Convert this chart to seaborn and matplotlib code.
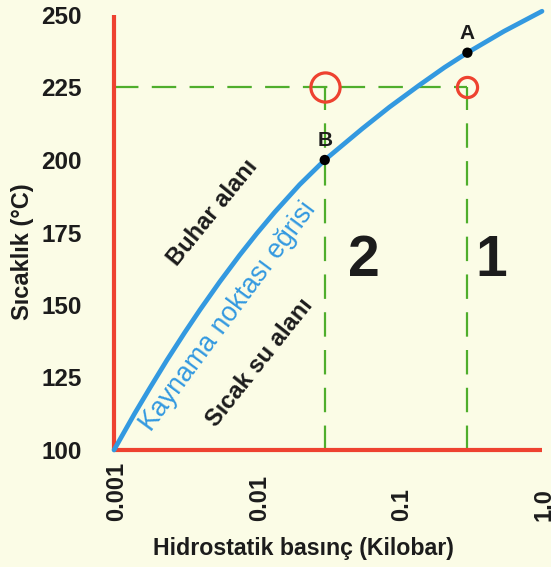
import matplotlib
matplotlib.use("Agg")
import matplotlib.pyplot as plt
import matplotlib.transforms as mtransforms
import seaborn as sns
import pandas as pd

# boiling point curve
pressure = [0.001, 0.0014, 0.00179, 0.00235, 0.00314, 0.0040, 0.00551, 0.0076,
            0.01, 0.01337, 0.02, 0.03, 0.055, 0.085, 0.138, 0.207, 0.3, 0.542, 1.0]
temperature = [100, 112.7, 121.5, 131, 140.6, 148.3, 158, 167.2,
               174.6, 182, 191.5, 200, 210.8, 218.2, 225.8, 231.9, 237, 244.4, 251.3]

point_names = ["A", "B"]
point_p = [0.3, 0.03]
point_t = [237, 200]

guide_t = 225
guide_p = [0.03, 0.3]

yticks = [100, 125, 150, 175, 200, 225, 250]
xtick_marks = [0.003, 0.01, 0.03, 0.1, 0.3, 1.0]
xtick_labels = ["0.001", "0.01", "0.1", "1.0"]
xtick_pos = [0.001, 0.01, 0.1, 1.0]

bg = "#fbfce6"
red = "#ee4230"
blue = "#3399e0"
green = "#4fae2c"
dark = "#1c1c1c"

sns.set_style("white")
plt.rcParams["font.family"] = ["Liberation Sans", "DejaVu Sans"]

fig = plt.figure(figsize=(5.51, 5.67), dpi=100)
fig.patch.set_facecolor(bg)
ax = fig.add_axes([114 / 551, 1 - 450 / 567, (542 - 114) / 551, (450 - 15) / 567])
ax.set_facecolor(bg)
ax.set_xscale("log")
ax.set_xlim(0.001, 1.0)
ax.set_ylim(100, 250)

# green dashed guides
dash = (0, (11, 6))
ax.plot([0.001, guide_p[1]], [guide_t, guide_t], color=green, lw=1.6, ls=dash, zorder=2)
for p in guide_p:
    ax.plot([p, p], [100, guide_t], color=green, lw=1.6, ls=dash, zorder=2)

curve = pd.DataFrame({"p": pressure, "t": temperature})
sns.lineplot(data=curve, x="p", y="t", ax=ax, color=blue, lw=3.4,
             estimator=None, sort=False, clip_on=False, zorder=3)

# red circles
ax.plot([guide_p[0]], [guide_t], marker="o", ms=21, mfc="none", mec=red, mew=2.3, zorder=4)
ax.plot([guide_p[1]], [guide_t], marker="o", ms=14.5, mfc="none", mec=red, mew=2.3, zorder=4)

pts = pd.DataFrame({"p": point_p, "t": point_t, "name": point_names})
sns.scatterplot(data=pts, x="p", y="t", ax=ax, color="black", s=55,
                edgecolor="none", zorder=5)
for name, p, t in zip(point_names, point_p, point_t):
    ax.text(p, t + 3.3, name, ha="center", va="bottom", fontsize=15,
            fontweight="bold", color=dark)

# region labels
ax.text(0.0049, 181.7, "Buhar alanı", rotation=51, rotation_mode="anchor",
        ha="center", va="center", fontsize=17, fontweight="bold", color=dark)
ax.text(0.0063, 146, "Kaynama noktası eğrisi", rotation=53.5, rotation_mode="anchor",
        ha="center", va="center", fontsize=19.3, color=blue)
ax.text(0.0105, 130, "Sıcak su alanı", rotation=51.5, rotation_mode="anchor",
        ha="center", va="center", fontsize=17, fontweight="bold", color=dark)
ax.text(0.056, 165, "2", ha="center", va="center", fontsize=41,
        fontweight="bold", color=dark)
ax.text(0.44, 165, "1", ha="center", va="center", fontsize=41,
        fontweight="bold", color=dark)

# spines and ticks
for side in ["top", "right"]:
    ax.spines[side].set_visible(False)
for side in ["left", "bottom"]:
    ax.spines[side].set_color(red)
    ax.spines[side].set_linewidth(3)
    ax.spines[side].set_capstyle("butt")

ax.set_yticks(yticks)
ax.set_yticklabels([str(v) for v in yticks], fontweight="bold", fontsize=17.5,
                   color=dark)
ax.set_xticks(xtick_marks)
ax.set_xticklabels([""] * len(xtick_marks))
ax.minorticks_off()
ax.tick_params(axis="both", direction="out", length=9.4, width=2.4, color=red)
ax.tick_params(axis="y", pad=14)

trans = mtransforms.blended_transform_factory(ax.transData, ax.transAxes)
for lab, p in zip(xtick_labels, xtick_pos):
    ax.text(p, -0.163, lab, transform=trans, rotation=90, rotation_mode="anchor",
            ha="left", va="center_baseline", fontweight="bold", fontsize=17,
            color=dark, clip_on=False)

ax.set_xlabel("")
ax.set_ylabel("")
fig.text(23 / 551, 1 - 252 / 567, "Sıcaklık (°C)", rotation=90, ha="center",
         va="center", fontsize=17, fontweight="bold", color=dark)
fig.text(303 / 551, 1 - 548 / 567, "Hidrostatik basınç (Kilobar)", ha="center",
         va="center", fontsize=16.7, fontweight="bold", color=dark)

fig.savefig("out.png", dpi=100, facecolor=bg)
